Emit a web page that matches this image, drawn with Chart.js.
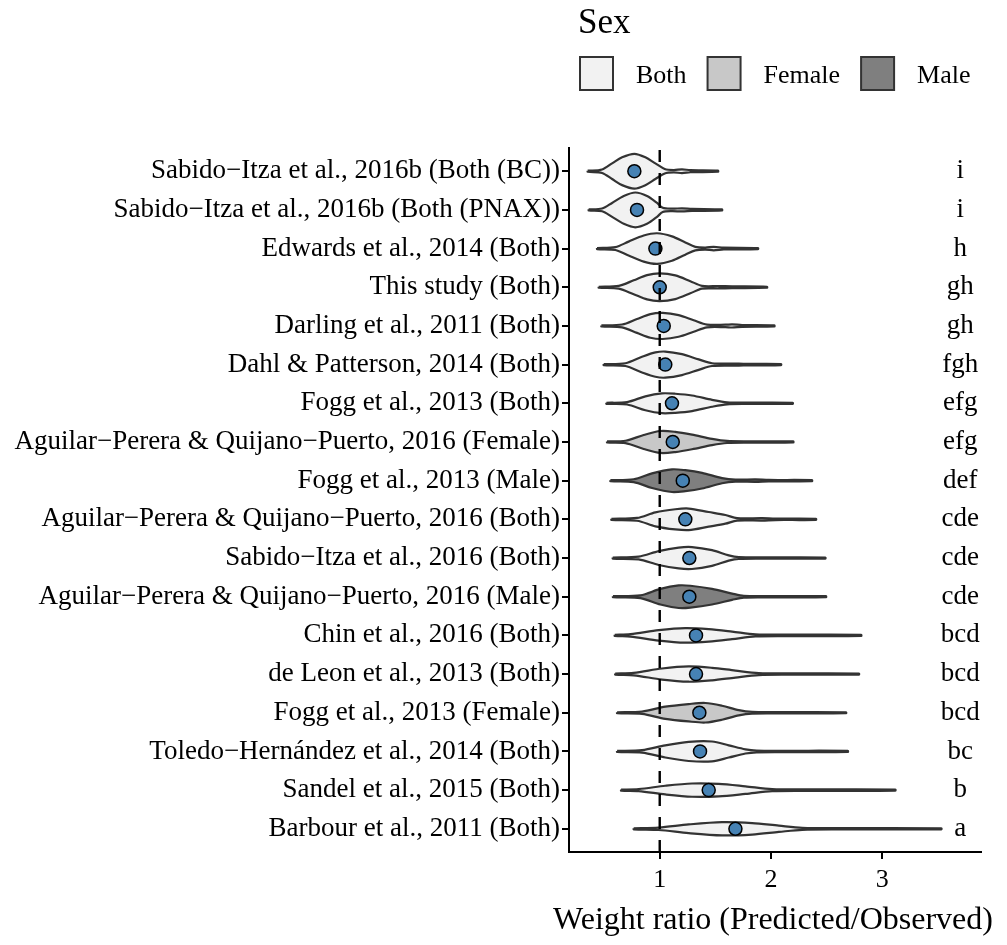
<html>
  <head>
    <script src="https://cdn.jsdelivr.net/npm/chart.js@4.4.1/dist/chart.umd.min.js"></script>
    <title>Weight ratio by study</title>
    <style>
      body {
        margin: 0;
        background-color: white;
      }
      #wrap {
        width: 1007px;
        height: 945px;
        position: relative;
      }
    </style>
  </head>
  <body>
    <div id="wrap"><canvas id="violin-chart"></canvas></div>
  </body>
  <script>
    var studies = [
      "Sabido\u2212Itza et al., 2016b (Both (BC))",
      "Sabido\u2212Itza et al., 2016b (Both (PNAX))",
      "Edwards et al., 2014 (Both)",
      "This study (Both)",
      "Darling et al., 2011 (Both)",
      "Dahl & Patterson, 2014 (Both)",
      "Fogg et al., 2013 (Both)",
      "Aguilar\u2212Perera & Quijano\u2212Puerto, 2016 (Female)",
      "Fogg et al., 2013 (Male)",
      "Aguilar\u2212Perera & Quijano\u2212Puerto, 2016 (Both)",
      "Sabido\u2212Itza et al., 2016 (Both)",
      "Aguilar\u2212Perera & Quijano\u2212Puerto, 2016 (Male)",
      "Chin et al., 2016 (Both)",
      "de Leon et al., 2013 (Both)",
      "Fogg et al., 2013 (Female)",
      "Toledo\u2212Hern\u00e1ndez et al., 2014 (Both)",
      "Sandel et al., 2015 (Both)",
      "Barbour et al., 2011 (Both)"
    ];
    var sexes = ["Both", "Both", "Both", "Both", "Both", "Both", "Both", "Female", "Male",
                 "Both", "Both", "Male", "Both", "Both", "Female", "Both", "Both", "Both"];
    var letters = ["i", "i", "h", "gh", "gh", "fgh", "efg", "efg", "def",
                   "cde", "cde", "cde", "bcd", "bcd", "bcd", "bc", "b", "a"];
    var medians = [0.772, 0.796, 0.961, 1.0, 1.036, 1.05, 1.11, 1.117, 1.207,
                   1.23, 1.266, 1.266, 1.326, 1.326, 1.356, 1.362, 1.44, 1.68];
    var xTicks = [1, 2, 3];
    var sexLevels = ["Both", "Female", "Male"];
    var xTitle = "Weight ratio (Predicted/Observed)";

    // violin outlines: ratio values and relative density (1 = widest violin)
    var densX = [
      [0.353, 0.482, 0.572, 0.662, 0.772, 0.871, 0.961, 1.045, 1.126, 1.200, 1.275, 1.524],
      [0.362, 0.482, 0.572, 0.677, 0.781, 0.886, 0.976, 1.027, 1.110, 1.200, 1.290, 1.560],
      [0.437, 0.602, 0.720, 0.856, 0.976, 1.110, 1.230, 1.320, 1.410, 1.485, 1.575, 1.883],
      [0.452, 0.632, 0.766, 0.886, 1.000, 1.140, 1.275, 1.380, 1.530, 1.650, 1.964],
      [0.476, 0.662, 0.796, 0.916, 1.027, 1.170, 1.305, 1.425, 1.590, 1.650, 1.740, 2.030],
      [0.497, 0.692, 0.841, 0.961, 1.050, 1.200, 1.350, 1.470, 1.710, 1.800, 2.090],
      [0.521, 0.707, 0.871, 1.020, 1.140, 1.290, 1.470, 1.605, 1.800, 2.195],
      [0.527, 0.692, 0.856, 1.006, 1.140, 1.290, 1.470, 1.605, 1.800, 2.200],
      [0.557, 0.766, 0.931, 1.110, 1.230, 1.380, 1.560, 1.680, 1.860, 1.980, 2.368],
      [0.566, 0.796, 0.961, 1.140, 1.260, 1.440, 1.590, 1.695, 1.920, 2.040, 2.404],
      [0.578, 0.811, 0.991, 1.170, 1.290, 1.470, 1.620, 1.710, 2.040, 2.488],
      [0.580, 0.826, 1.006, 1.170, 1.275, 1.470, 1.650, 1.755, 2.040, 2.494],
      [0.596, 0.737, 0.991, 1.230, 1.440, 1.650, 1.860, 2.190, 2.810],
      [0.600, 0.766, 1.020, 1.260, 1.470, 1.680, 1.890, 2.190, 2.790],
      [0.617, 0.841, 1.050, 1.260, 1.410, 1.560, 1.710, 1.830, 2.100, 2.674],
      [0.617, 0.841, 1.050, 1.260, 1.470, 1.620, 1.770, 1.870, 2.160, 2.690],
      [0.653, 0.811, 1.050, 1.290, 1.530, 1.770, 2.010, 2.340, 3.117],
      [0.766, 0.991, 1.260, 1.560, 1.830, 2.070, 2.280, 2.640, 3.530]
    ];
    var densD = [
      [0.03, 0.10, 0.45, 0.80, 1.00, 0.80, 0.45, 0.13, 0.07, 0.11, 0.06, 0.03],
      [0.03, 0.08, 0.40, 0.80, 1.00, 0.80, 0.40, 0.12, 0.07, 0.09, 0.06, 0.03],
      [0.03, 0.08, 0.40, 0.75, 0.88, 0.70, 0.35, 0.10, 0.06, 0.10, 0.05, 0.03],
      [0.03, 0.08, 0.40, 0.70, 0.80, 0.68, 0.35, 0.08, 0.07, 0.05, 0.03],
      [0.03, 0.08, 0.40, 0.68, 0.75, 0.62, 0.33, 0.08, 0.07, 0.09, 0.05, 0.03],
      [0.03, 0.08, 0.45, 0.70, 0.75, 0.60, 0.30, 0.08, 0.06, 0.04, 0.03],
      [0.03, 0.07, 0.40, 0.57, 0.55, 0.45, 0.20, 0.06, 0.04, 0.03],
      [0.03, 0.07, 0.40, 0.63, 0.58, 0.42, 0.18, 0.06, 0.04, 0.03],
      [0.03, 0.08, 0.42, 0.65, 0.60, 0.45, 0.15, 0.06, 0.07, 0.04, 0.03],
      [0.03, 0.08, 0.40, 0.58, 0.62, 0.42, 0.25, 0.07, 0.07, 0.04, 0.03],
      [0.03, 0.08, 0.40, 0.60, 0.63, 0.45, 0.15, 0.05, 0.04, 0.03],
      [0.03, 0.08, 0.45, 0.65, 0.63, 0.45, 0.18, 0.05, 0.04, 0.03],
      [0.03, 0.07, 0.30, 0.42, 0.36, 0.22, 0.06, 0.04, 0.03],
      [0.03, 0.07, 0.32, 0.44, 0.36, 0.20, 0.06, 0.04, 0.03],
      [0.03, 0.07, 0.35, 0.50, 0.56, 0.40, 0.15, 0.05, 0.04, 0.03],
      [0.03, 0.07, 0.35, 0.55, 0.57, 0.35, 0.12, 0.05, 0.04, 0.03],
      [0.03, 0.06, 0.25, 0.38, 0.36, 0.22, 0.06, 0.04, 0.03],
      [0.03, 0.07, 0.25, 0.38, 0.33, 0.18, 0.06, 0.04, 0.03]
    ];

    var sexFill = { Both: "#f2f2f2", Female: "#c8c8c8", Male: "#7f7f7f" };
    var halfMax = 0.45;   // half width of the widest violin, in rows
    var letterX = 3.7;
    var serif = "'Liberation Serif', 'Times New Roman', serif";

    Chart.defaults.font.family = serif;
    Chart.defaults.color = "black";

    var datasets = [];
    for (var i = 0; i < studies.length; i++) {
      var xs = densX[i], ds = densD[i];
      var pts = [];
      for (var k = 0; k < xs.length; k++) {
        pts.push({ x: xs[k], y: i - ds[k] * halfMax });
      }
      for (var k = xs.length - 1; k >= 0; k--) {
        pts.push({ x: xs[k], y: i + ds[k] * halfMax });
      }
      pts.push({ x: xs[0], y: i - ds[0] * halfMax });
      datasets.push({
        data: pts,
        showLine: true,
        fill: "shape",
        backgroundColor: sexFill[sexes[i]],
        borderColor: "#333333",
        borderWidth: 2.2,
        pointRadius: 0,
        tension: 0.3
      });
    }
    // medians on top of the violins (lower order is drawn last)
    datasets.push({
      data: medians.map(function (m, i) { return { x: m, y: i }; }),
      order: -1,
      pointRadius: 6.5,
      pointBackgroundColor: "#4682b4",
      pointBorderColor: "black",
      pointBorderWidth: 1.5,
      showLine: false
    });

    var extras = {
      id: "extras",
      afterDatasetsDraw: function (chart) {
        var ctx = chart.ctx, sx = chart.scales.x, sy = chart.scales.y, area = chart.chartArea;
        ctx.save();
        // dashed reference line at ratio = 1
        var px = sx.getPixelForValue(1);
        ctx.strokeStyle = "black";
        ctx.lineWidth = 2.4;
        ctx.setLineDash([12, 11]);
        ctx.beginPath();
        ctx.moveTo(px, area.bottom);
        ctx.lineTo(px, area.top);
        ctx.stroke();
        ctx.setLineDash([]);
        // group letters
        ctx.fillStyle = "black";
        ctx.font = "27px " + serif;
        ctx.textAlign = "center";
        ctx.textBaseline = "middle";
        for (var i = 0; i < letters.length; i++) {
          ctx.fillText(letters[i], sx.getPixelForValue(letterX), sy.getPixelForValue(i));
        }
        ctx.restore();
      },
      afterDraw: function (chart) {
        var ctx = chart.ctx, area = chart.chartArea;
        ctx.save();
        ctx.fillStyle = "black";
        // x axis title, allowed to run past the plot edges
        ctx.font = "32px " + serif;
        ctx.textAlign = "center";
        ctx.textBaseline = "alphabetic";
        ctx.fillText(xTitle, (area.left + area.right) / 2 - 2, 929);
        // legend
        ctx.textAlign = "left";
        ctx.font = "35px " + serif;
        ctx.fillText("Sex", 578, 33);
        ctx.font = "26px " + serif;
        var x = 580;
        for (var i = 0; i < sexLevels.length; i++) {
          ctx.fillStyle = sexFill[sexLevels[i]];
          ctx.fillRect(x, 57, 33, 33);
          ctx.strokeStyle = "#333333";
          ctx.lineWidth = 2;
          ctx.strokeRect(x, 57, 33, 33);
          ctx.fillStyle = "black";
          ctx.fillText(sexLevels[i], x + 56, 83);
          x = x + 56 + ctx.measureText(sexLevels[i]).width + 21;
        }
        ctx.restore();
      }
    };

    new Chart(document.getElementById("violin-chart"), {
      type: "scatter",
      data: { datasets: datasets },
      plugins: [extras],
      options: {
        responsive: true,
        maintainAspectRatio: false,
        animation: false,
        layout: { padding: { top: 148, right: 26, left: 0, bottom: 0 } },
        plugins: {
          legend: { display: false },
          tooltip: { enabled: false }
        },
        scales: {
          x: {
            type: "linear",
            min: 0.185,
            max: 3.886,
            afterBuildTicks: function (scale) {
              scale.ticks = xTicks.map(function (v) { return { value: v }; });
            },
            afterFit: function (scale) { scale.height = 93; },
            ticks: {
              font: { size: 26 },
              color: "black",
              padding: 6,
              maxRotation: 0,
              autoSkip: false,
              callback: function (v) { return String(v); }
            },
            grid: { display: true, drawOnChartArea: false, drawTicks: true, tickLength: 7, color: "black", lineWidth: 2 },
            border: { display: true, color: "black", width: 2 }
          },
          y: {
            type: "linear",
            reverse: true,
            min: -0.6,
            max: 17.6,
            afterBuildTicks: function (scale) {
              scale.ticks = studies.map(function (s, i) { return { value: i }; });
            },
            afterFit: function (scale) { scale.width = 569; },
            ticks: {
              font: { size: 27 },
              color: "black",
              padding: 2,
              autoSkip: false,
              callback: function (v) { return studies[v]; }
            },
            grid: { display: true, drawOnChartArea: false, drawTicks: true, tickLength: 7, color: "black", lineWidth: 2 },
            border: { display: true, color: "black", width: 2 }
          }
        }
      }
    });
  </script>
</html>
